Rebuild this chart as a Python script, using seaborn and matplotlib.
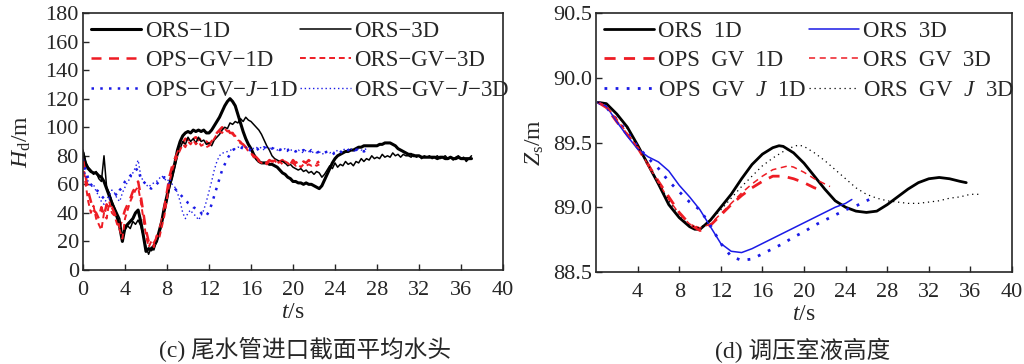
import numpy as np
import matplotlib
matplotlib.use("Agg")
import matplotlib.pyplot as plt
import seaborn as sns

# --- (c) 尾水管进口截面平均水头, 0.25 s 采样 ---
hd_ors_1d = [82, 74, 71, 69, 68, 68, 66, 65, 62, 57, 52, 47, 42, 37, 30, 20,
             30, 32, 34, 36, 40, 42, 34, 24, 13, 15, 14, 17, 20, 27, 34, 44,
             52, 60, 67, 75, 84, 90, 94, 96, 97, 96, 98, 97, 98, 97, 98, 96,
             96, 98, 101, 104, 107, 111, 115, 118, 120, 118, 115, 109, 103, 97, 92, 88,
             85, 81, 78, 76, 75, 75, 75, 74, 74, 73, 72, 70, 68, 67, 65, 64,
             62, 62, 61, 61, 60, 61, 60, 60, 59, 58, 57, 59, 63, 67, 71, 75,
             78, 80, 81, 82, 83, 83, 84, 84, 85, 86, 86, 87, 87, 87, 87, 87,
             87, 88, 88, 89, 89, 89, 88, 87, 85, 84, 83, 82, 81, 81, 80, 80,
             80, 79, 79, 79, 79, 79, 79, 78, 79, 79, 78, 78, 79, 78, 78, 79,
             78, 78, 78, 78, 78]
hd_ors_3d = [84, 76, 72, 70, 67, 69, 64, 62, 80, 58, 54, 48, 44, 40, 36, 24,
             28, 31, 29, 34, 32, 35, 31, 24, 16, 11, 16, 14, 20, 24, 32, 40,
             48, 58, 64, 72, 80, 85, 90, 88, 93, 90, 92, 89, 93, 90, 91, 88,
             89, 87, 91, 93, 95, 98, 100, 99, 103, 102, 104, 103, 106, 104, 107, 105,
             104, 102, 100, 98, 95, 91, 87, 84, 80, 78, 77, 76, 76, 75, 73, 74,
             72, 71, 70, 71, 69, 70, 68, 69, 67, 69, 68, 65, 67, 70, 73, 71,
             75, 72, 74, 73, 76, 74, 75, 73, 76, 75, 78, 76, 78, 77, 80, 78,
             79, 78, 81, 79, 80, 79, 82, 80, 81, 79, 81, 80, 80, 79, 81, 79,
             80, 78, 80, 79, 80, 78, 79, 80, 78, 79, 80, 78, 79, 77, 79, 80,
             78, 79, 76, 78, 80]
hd_ops_gv_1d = [78, 66, 55, 48, 42, 40, 36, 44, 38, 46, 42, 44, 40, 34, 30, 36,
                42, 46, 50, 55, 58, 62, 52, 40, 28, 20, 17, 19, 22, 28, 34, 44,
                55, 66, 73, 78, 82, 86, 89, 92, 91, 94, 92, 93, 91, 92, 89, 90,
                88, 90, 93, 96, 98, 100, 98, 99, 96, 96, 93, 92, 89, 88, 86, 84,
                82, 80, 79, 77, 76, 77, 75, 77, 76, 78, 75, 76, 77, 75, 76, 74,
                77, 75, 76, 74, 76, 75, 77, 75, 76, 75, 76]
hd_ors_gv_3d = [76, 60, 48, 40, 45, 36, 32, 28, 40, 36, 48, 40, 38, 32, 28, 22,
                36, 42, 48, 52, 56, 58, 48, 36, 24, 16, 20, 16, 24, 22, 30, 38,
                50, 62, 70, 76, 80, 84, 88, 86, 90, 88, 91, 88, 90, 87, 88, 86,
                87, 89, 92, 95, 97, 96, 99, 97, 98, 95, 94, 91, 90, 87, 86, 83,
                82, 79, 78, 76, 75, 76, 74, 76, 75, 77, 74, 76, 74, 76, 75, 73,
                75, 73, 74, 72, 74, 73, 74, 73, 74, 73, 74]
hd_ops_gv_j_1d = [78, 70, 64, 60, 58, 56, 55, 52, 50, 51, 50, 52, 54, 52, 56, 58,
                  62, 64, 66, 68, 70, 71, 64, 62, 60, 58, 57, 59, 60, 62, 63, 65,
                  62, 60, 59, 57, 55, 53, 51, 49, 47, 46, 44, 43, 42, 40, 38, 38,
                  41, 46, 52, 58, 64, 70, 74, 78, 81, 84, 85, 86, 86, 85, 85, 84,
                  84, 83, 84, 85, 84, 86, 85, 86, 85, 86, 85, 84, 85, 84, 84, 85,
                  84, 83, 84, 83, 84, 83, 82, 84, 83, 82, 83, 82, 82, 83, 82, 81,
                  82, 83, 82, 84, 83, 84, 85, 84, 84, 85, 84, 83, 84]
hd_ors_gv_j_3d = [74, 66, 62, 58, 60, 55, 52, 48, 46, 50, 52, 56, 54, 50, 48, 54,
                  58, 62, 64, 68, 72, 77, 66, 62, 60, 58, 60, 61, 62, 64, 66, 64,
                  62, 64, 60, 58, 54, 48, 40, 36, 40, 42, 39, 38, 35, 38, 42, 48,
                  55, 62, 70, 76, 80, 82, 82, 83, 84, 84, 85, 86, 86, 87, 86, 85,
                  86, 85, 86, 85, 86, 84, 86, 85, 86, 85, 84, 85, 84, 85, 83, 84,
                  84, 83, 84, 83, 82, 84, 83, 82, 83, 82, 83, 81, 82, 83, 82, 83,
                  82, 84, 83, 84, 85, 84, 85, 83, 84, 85, 84, 84, 85]

# --- (d) 调压室液高度 ---
t_ors_1d = [0.2, 1, 2, 3, 4, 5, 6, 7, 8, 9, 9.5, 10, 11, 12, 13, 14, 15, 16, 17,
            17.6, 18, 19, 20, 21, 22, 23, 24, 25, 26, 27, 28, 29, 30, 31, 32,
            33, 34, 35, 35.6]
zs_ors_1d = [89.81, 89.80, 89.72, 89.62, 89.48, 89.33, 89.18, 89.02, 88.92, 88.85,
             88.83, 88.83, 88.90, 89.00, 89.10, 89.22, 89.33, 89.41, 89.46,
             89.475, 89.47, 89.42, 89.34, 89.24, 89.14, 89.05, 89.00, 88.97, 88.96,
             88.97, 89.02, 89.08, 89.14, 89.19, 89.22, 89.23, 89.22, 89.20, 89.19]
t_ors_3d = [0.2, 1, 2, 3, 4, 5, 6, 7, 8, 9, 10, 11, 12, 13, 14, 15, 16, 17, 18,
            19, 20, 21, 22, 23, 24, 24.6]
zs_ors_3d = [89.81, 89.78, 89.66, 89.55, 89.45, 89.39, 89.35, 89.28, 89.17, 89.08,
             88.98, 88.85, 88.72, 88.66, 88.65, 88.68, 88.72, 88.76, 88.80, 88.84,
             88.88, 88.92, 88.96, 89.00, 89.03, 89.06]
t_ops_gv_1d = [0.2, 1, 2, 3, 4, 5, 6, 7, 8, 9, 10, 11, 12, 13, 14, 15, 16, 17,
               18, 19, 20, 21, 21.8]
zs_ops_gv_1d = [89.81, 89.77, 89.66, 89.56, 89.46, 89.33, 89.20, 89.08, 88.96,
                88.87, 88.82, 88.86, 88.94, 89.02, 89.09, 89.15, 89.20, 89.24,
                89.24, 89.22, 89.19, 89.15, 89.13]
t_ors_gv_3d = [0.2, 1, 2, 3, 4, 5, 6, 7, 8, 9, 10, 11, 12, 13, 14, 15, 16, 17,
               18, 18.5, 19, 20, 21, 22, 22.5]
zs_ors_gv_3d = [89.81, 89.78, 89.68, 89.57, 89.46, 89.33, 89.19, 89.06, 88.95,
                88.87, 88.84, 88.87, 88.95, 89.03, 89.11, 89.18, 89.24, 89.29,
                89.31, 89.32, 89.31, 89.27, 89.22, 89.18, 89.16]
t_ops_gv_j_1d = [0.2, 1, 2, 3, 4, 5, 6, 7, 8, 9, 10, 11, 12, 13, 14, 15, 16, 17,
                 18, 19, 20, 21, 22, 23, 24, 25, 26, 26.6]
zs_ops_gv_j_1d = [89.81, 89.77, 89.68, 89.58, 89.47, 89.38, 89.30, 89.20, 89.12,
                  89.04, 88.98, 88.86, 88.72, 88.62, 88.59, 88.60, 88.64, 88.68,
                  88.72, 88.77, 88.81, 88.86, 88.90, 88.94, 88.98, 89.01, 89.05,
                  89.07]
t_ors_gv_j_3d = [0.2, 1, 2, 3, 4, 5, 6, 7, 8, 9, 10, 11, 12, 13, 14, 15, 16, 17,
                 18, 19, 19.5, 20, 21, 22, 23, 24, 25, 26, 27, 28, 29, 30, 31,
                 32, 33, 34, 35, 36, 37]
zs_ors_gv_j_3d = [89.81, 89.80, 89.72, 89.61, 89.47, 89.33, 89.19, 89.05, 88.93,
                  88.86, 88.84, 88.90, 88.98, 89.07, 89.16, 89.24, 89.32, 89.38,
                  89.43, 89.47, 89.48, 89.47, 89.42, 89.36, 89.29, 89.22, 89.15,
                  89.10, 89.07, 89.05, 89.04, 89.03, 89.03, 89.04, 89.05, 89.07,
                  89.08, 89.10, 89.10]

RED = "#ee1c24"
BLUE = "#1a1ae6"
FS = 17
TFS = 16
LFS = 16.5

sns.set_style("ticks")
plt.rcParams["font.family"] = ["Liberation Serif", "Noto Sans CJK SC"]
plt.rcParams["mathtext.fontset"] = "custom"
plt.rcParams["mathtext.rm"] = "Liberation Serif"
plt.rcParams["mathtext.it"] = "Liberation Serif:italic"
plt.rcParams["font.size"] = FS

fig = plt.figure(figsize=(10.24, 3.64), dpi=100)
ax1 = fig.add_axes([83 / 1024, 1 - 270 / 364, 420 / 1024, 257 / 364])
ax2 = fig.add_axes([596 / 1024, 1 - 272 / 364, 416 / 1024, 259 / 364])


def tgrid(vals):
    return np.arange(len(vals)) * 0.25


D = "\u2212"
# 左图
sns.lineplot(x=tgrid(hd_ors_1d), y=hd_ors_1d, ax=ax1, color="black", lw=2.2,
             label=f"ORS{D}1D")
sns.lineplot(x=tgrid(hd_ops_gv_1d), y=hd_ops_gv_1d, ax=ax1, color=RED, lw=1.8,
             dashes=(4, 3), label=f"OPS{D}GV{D}1D")
sns.lineplot(x=tgrid(hd_ops_gv_j_1d), y=hd_ops_gv_j_1d, ax=ax1, color=BLUE, lw=1.8,
             dashes=(1, 2.5), label=f"OPS{D}GV{D}$J${D}1D")
sns.lineplot(x=tgrid(hd_ors_3d), y=hd_ors_3d, ax=ax1, color="black", lw=1.1,
             label=f"ORS{D}3D")
sns.lineplot(x=tgrid(hd_ors_gv_3d), y=hd_ors_gv_3d, ax=ax1, color=RED, lw=1.4,
             dashes=(3, 2), label=f"ORS{D}GV{D}3D")
sns.lineplot(x=tgrid(hd_ors_gv_j_3d), y=hd_ors_gv_j_3d, ax=ax1, color=BLUE, lw=1.0,
             dashes=(1, 2), label=f"ORS{D}GV{D}$J${D}3D")

# 右图
sns.lineplot(x=t_ors_1d, y=zs_ors_1d, ax=ax2, color="black", lw=2.0,
             label="ORS  1D")
sns.lineplot(x=t_ops_gv_1d, y=zs_ops_gv_1d, ax=ax2, color=RED, lw=2.0,
             dashes=(4, 3), label="OPS  GV  1D")
sns.lineplot(x=t_ops_gv_j_1d, y=zs_ops_gv_j_1d, ax=ax2, color=BLUE, lw=2.0,
             dashes=(1, 3), label="OPS  GV  $J$  1D")
sns.lineplot(x=t_ors_3d, y=zs_ors_3d, ax=ax2, color=BLUE, lw=1.1,
             label="ORS  3D")
sns.lineplot(x=t_ors_gv_3d, y=zs_ors_gv_3d, ax=ax2, color=RED, lw=1.1,
             dashes=(4, 3), label="ORS  GV  3D")
sns.lineplot(x=t_ors_gv_j_3d, y=zs_ors_gv_j_3d, ax=ax2, color="black", lw=0.9,
             dashes=(1, 3), label="ORS  GV  $J$  3D")

for ax in (ax1, ax2):
    ax.set_xlim(0, 40)
    ax.tick_params(axis="x", direction="in", length=4, width=1, labelsize=TFS, pad=8)
    ax.tick_params(axis="y", direction="in", length=4, width=1, labelsize=TFS, pad=3)
    for s in ax.spines.values():
        s.set_linewidth(1.2)
    ax.set_xlabel("$t$/s", fontsize=FS, labelpad=1)
    ax.legend(ncol=2, frameon=False, loc="upper left", fontsize=LFS,
              handlelength=2.2, handletextpad=0.15, columnspacing=0.1,
              labelspacing=0.36, borderaxespad=0.2, borderpad=0.15)

ax1.set_ylim(0, 180)
ax1.set_yticks(np.arange(0, 181, 20))
ax1.set_xticks(np.arange(0, 41, 4))
ax1.set_ylabel("$H_\\mathrm{d}$/m", fontsize=FS, labelpad=9)

ax2.set_ylim(88.5, 90.5)
ax2.set_yticks([88.5, 89.0, 89.5, 90.0, 90.5])
ax2.set_yticklabels(["88.5", "89.0", "89.5", "90.0", "90.5"])
ax2.set_xticks(np.arange(4, 41, 4))
ax2.set_ylabel("$Z_\\mathrm{s}$/m", fontsize=FS, labelpad=5)

fig.text(305 / 1024, 1 - 350 / 364, "(c) 尾水管进口截面平均水头", ha="center",
         va="center", fontsize=FS)
fig.text(803 / 1024, 1 - 350 / 364, "(d) 调压室液高度", ha="center",
         va="center", fontsize=FS)

fig.savefig("out.png", dpi=100)
